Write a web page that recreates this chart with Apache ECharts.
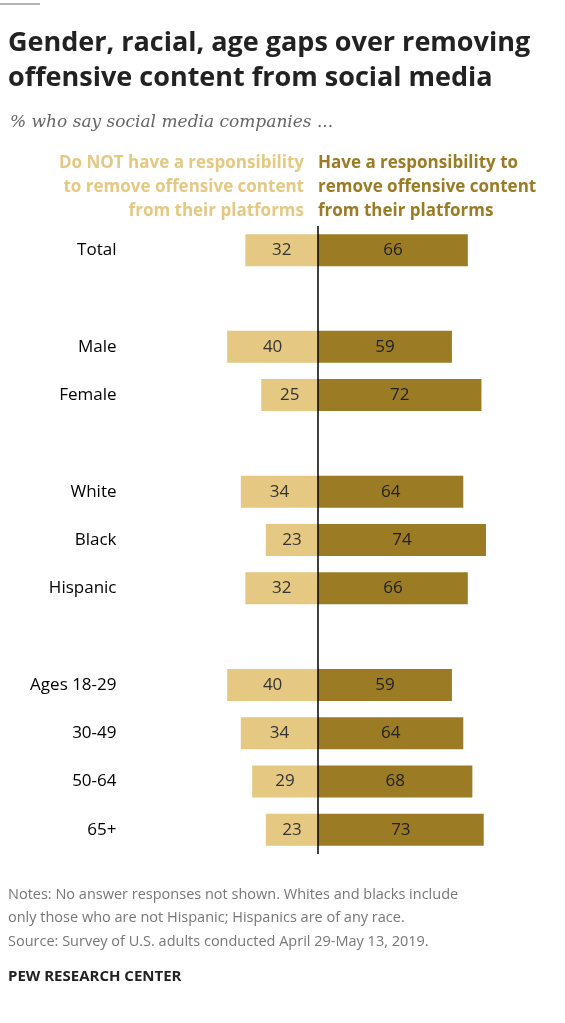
<!DOCTYPE html>
<html>
<head>
<meta charset="UTF-8">
<title>Removing offensive content</title>
<style>
  body { margin: 0; background: #fff; }
  #myChart { width: 565px; height: 1023px; }
</style>
</head>
<body>
<div id="myChart"></div>
<script src="https://cdn.jsdelivr.net/npm/echarts@6/dist/echarts.min.js"></script>
<script>
  const categories = ['Total', '', 'Male', 'Female', ' ', 'White', 'Black', 'Hispanic', '  ', 'Ages 18-29', '30-49', '50-64', '65+'];
  const notResponsible = [32, null, 40, 25, null, 34, 23, 32, null, 40, 34, 29, 23];
  const responsible = [66, null, 59, 72, null, 64, 74, 66, null, 59, 64, 68, 73];

  const light = '#E5C882';
  const dark = '#9C7B25';
  const font = '"Open Sans", Roboto, sans-serif';

  const chart = echarts.init(document.getElementById('myChart'));
  chart.setOption({
    animation: false,
    textStyle: { fontFamily: font },
    grid: { left: 204.5, right: 65.4, top: 226, height: 628 },
    xAxis: { type: 'value', min: -50, max: 80, show: false },
    yAxis: {
      type: 'category', data: categories, inverse: true,
      axisLine: { show: false }, axisTick: { show: false },
      axisLabel: { margin: 88, fontSize: 17, color: '#000', fontFamily: font }
    },
    graphic: [
      { type: 'line', shape: { x1: 0, y1: 4, x2: 40, y2: 4 }, style: { stroke: '#666', lineWidth: 1 } },
      { type: 'text', left: 8, top: 26, style: { text: 'Gender, racial, age gaps over removing\noffensive content from social media', font: 'bold 27px ' + font, fill: '#222', lineHeight: 35 } },
      { type: 'text', left: 10, top: 114, style: { text: '% who say social media companies ...', font: 'italic 17px "DejaVu Serif", serif', fill: '#666' } },
      { type: 'text', x: 304, y: 151, style: { text: 'Do NOT have a responsibility\nto remove offensive content\nfrom their platforms', font: 'bold 17px ' + font, fill: light, align: 'right', lineHeight: 24 } },
      { type: 'text', x: 318, y: 151, style: { text: 'Have a responsibility to\nremove offensive content\nfrom their platforms', font: 'bold 17px ' + font, fill: dark, lineHeight: 24 } },
      { type: 'text', left: 8, top: 883, style: { text: 'Notes: No answer responses not shown. Whites and blacks include\nonly those who are not Hispanic; Hispanics are of any race.\nSource: Survey of U.S. adults conducted April 29-May 13, 2019.', font: '14.5px ' + font, fill: '#777', lineHeight: 23.5 } },
      { type: 'text', left: 8, top: 969, style: { text: 'PEW RESEARCH CENTER', font: 'bold 15px ' + font, fill: '#222' } }
    ],
    series: [
      {
        type: 'bar', stack: 'a', barWidth: 32,
        data: notResponsible.map(v => v == null ? null : -v),
        itemStyle: { color: light },
        label: { show: true, position: 'inside', fontSize: 17, color: '#333', formatter: p => -p.value },
        markLine: {
          symbol: 'none', silent: true, label: { show: false },
          lineStyle: { color: '#000', width: 1.5, type: 'solid' },
          data: [{ xAxis: 0 }]
        }
      },
      {
        type: 'bar', stack: 'a', barWidth: 32,
        data: responsible,
        itemStyle: { color: dark },
        label: { show: true, position: 'inside', fontSize: 17, color: '#222' }
      }
    ]
  });
</script>
</body>
</html>
